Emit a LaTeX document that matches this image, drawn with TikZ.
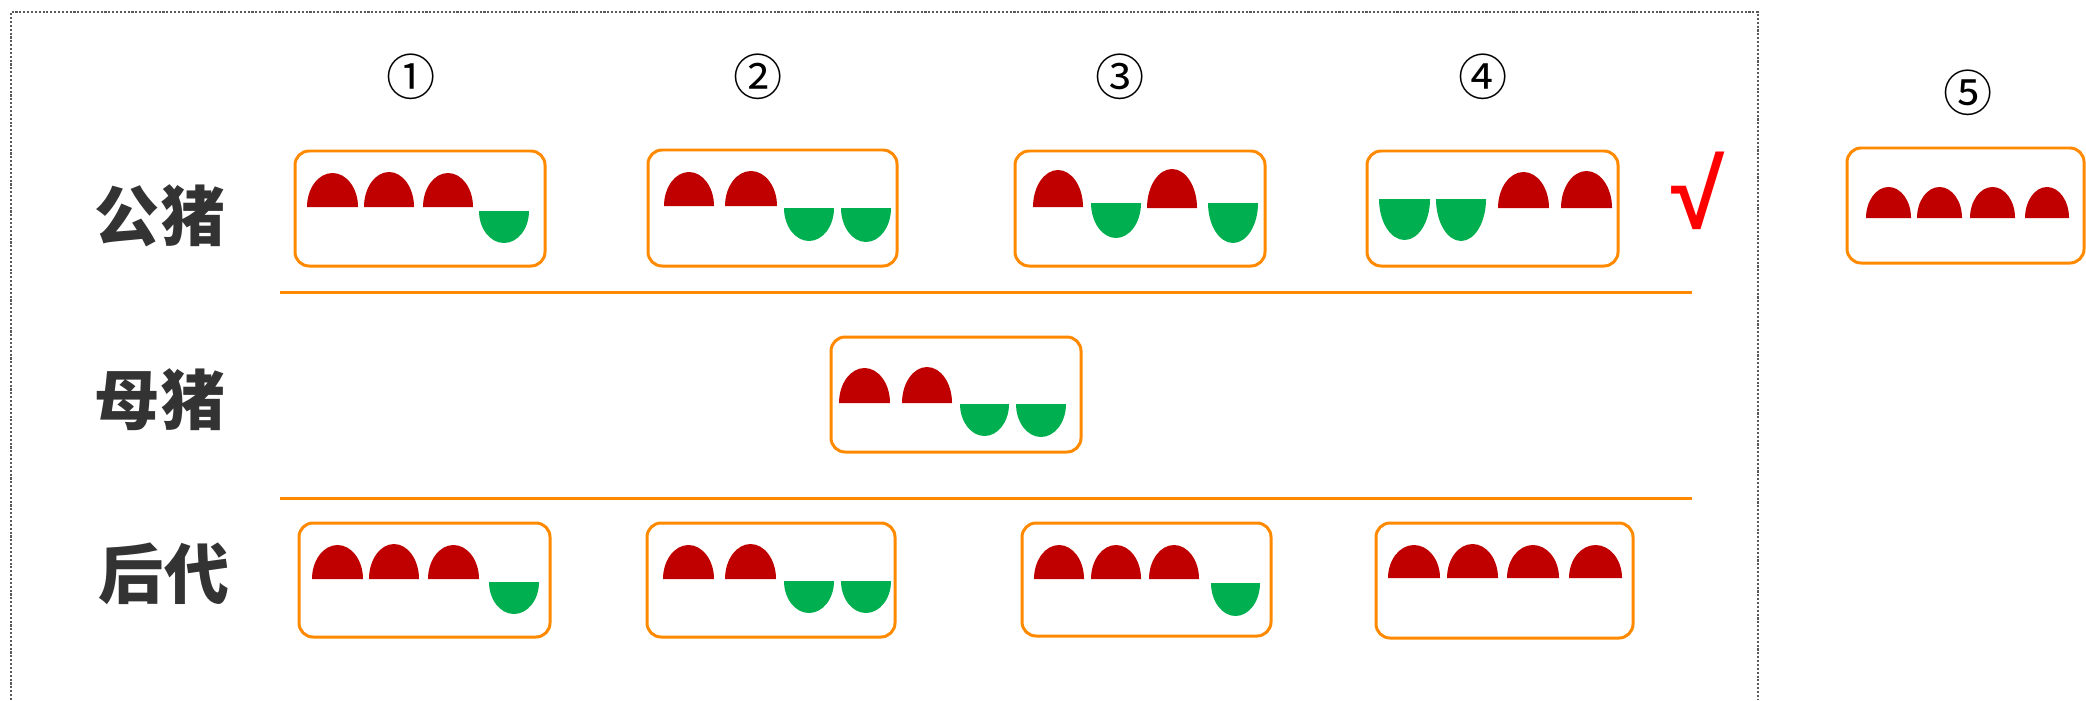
\documentclass[tikz,border=0pt]{standalone}
\usepackage{fontspec}
\newfontfamily\cjk{Noto Sans CJK SC}
\newfontfamily\checkfont{Liberation Sans}
\definecolor{capred}{HTML}{C00000}
\definecolor{capgreen}{HTML}{00B050}
\definecolor{boxorange}{HTML}{FF8A00}
\definecolor{labelgray}{HTML}{333333}
\definecolor{framegray}{HTML}{5A5A5A}
\definecolor{checkred}{HTML}{FF0000}
\newcommand\upcap[4]{% x1 x2 top base
  \fill[capred] (#1,#4) .. controls (#1,{#4-0.5523*(#4-#3)}) and ({(#1+#2)/2-0.5523*(#2-#1)/2},#3) .. ({(#1+#2)/2},#3)
    .. controls ({(#1+#2)/2+0.5523*(#2-#1)/2},#3) and (#2,{#4-0.5523*(#4-#3)}) .. (#2,#4) -- cycle;}
\newcommand\downcap[4]{% x1 x2 top bottom
  \fill[capgreen] (#1,#3) .. controls (#1,{#3+0.5523*(#4-#3)}) and ({(#1+#2)/2-0.5523*(#2-#1)/2},#4) .. ({(#1+#2)/2},#4)
    .. controls ({(#1+#2)/2+0.5523*(#2-#1)/2},#4) and (#2,{#3+0.5523*(#4-#3)}) .. (#2,#3) -- cycle;}
\begin{document}
\begin{tikzpicture}[x=0.01cm,y=-0.01cm,
  pbox/.style={draw=boxorange,line width=0.85pt,rounded corners=4pt},
  sepline/.style={draw=boxorange,line width=0.85pt},
  frame/.style={draw=framegray,line width=0.7pt,dash pattern=on 0.6pt off 0.5pt},
  rowlabel/.style={font=\cjk\bfseries\fontsize{18.5pt}{18.5pt}\selectfont,text=labelgray,inner sep=0pt},
  numlabel/.style={font=\cjk\fontsize{14pt}{14pt}\selectfont,inner sep=0pt},
  checklabel/.style={font=\checkfont\bfseries\fontsize{27.5pt}{27.5pt}\selectfont,text=checkred,inner sep=0pt}]
\fill[white] (0,0) rectangle (2086,700);
\useasboundingbox (0,0) rectangle (2086,700);
% frame
\draw[frame] (11,700) -- (11,12) -- (1758,12) -- (1758,700);
% labels
\node[rowlabel] (gz) at (160,216) {公猪};
\node[rowlabel] (mz) at (160,400) {母猪};
\node[rowlabel] (hd) at (164,574) {后代};
\node[numlabel] (n1) at (411,77) {①};
\node[numlabel] (n2) at (758,77) {②};
\node[numlabel] (n3) at (1120,77) {③};
\node[numlabel] (n4) at (1483,77) {④};
\node[numlabel] (n5) at (1968,93) {⑤};
\node[checklabel] (ck) at (1698,191) {√};
% separator lines
\coordinate (l1a) at (280,292); \coordinate (l1b) at (1692,292);
\coordinate (l2a) at (280,498); \coordinate (l2b) at (1692,498);
\draw[sepline] (l1a) -- (l1b);
\draw[sepline] (l2a) -- (l2b);
% row 1
\draw[pbox] (295,151) rectangle (545,266);
\upcap{307}{358}{173}{207}\upcap{364}{414}{172}{207}\upcap{423}{473}{173}{207}
\downcap{479}{529}{211}{243}
\draw[pbox] (648,150) rectangle (897,266);
\upcap{664}{714}{172}{206}\upcap{725}{777}{171}{206}
\downcap{784}{834}{208}{241}\downcap{841}{891}{208}{242}
\draw[pbox] (1015,151) rectangle (1265,266);
\upcap{1033}{1083}{170}{207}\upcap{1147}{1197}{169}{208}
\downcap{1091}{1141}{203}{238}\downcap{1208}{1258}{203}{243}
\draw[pbox] (1367,151) rectangle (1618,266);
\downcap{1379}{1430}{199}{240}\downcap{1436}{1486}{199}{241}
\upcap{1498}{1549}{172}{208}\upcap{1561}{1612}{171}{208}
\draw[pbox] (1847,148) rectangle (2084,263);
\upcap{1866}{1911}{187}{218}\upcap{1917}{1962}{187}{218}\upcap{1970}{2015}{187}{218}\upcap{2025}{2069}{187}{218}
% row 2
\draw[pbox] (831,337) rectangle (1081,452);
\upcap{839}{890}{368}{403}\upcap{902}{952}{367}{403}
\downcap{960}{1009}{404}{436}\downcap{1016}{1066}{404}{437}
% row 3
\draw[pbox] (299,523) rectangle (550,637);
\upcap{312}{363}{545}{579}\upcap{369}{419}{544}{579}\upcap{428}{479}{545}{579}
\downcap{489}{539}{582}{614}
\draw[pbox] (647,523) rectangle (895,637);
\upcap{663}{714}{545}{579}\upcap{725}{776}{544}{579}
\downcap{784}{834}{581}{613}\downcap{841}{891}{581}{613}
\draw[pbox] (1022,523) rectangle (1271,636);
\upcap{1034}{1084}{545}{579}\upcap{1091}{1141}{545}{579}\upcap{1149}{1199}{545}{579}
\downcap{1211}{1260}{583}{616}
\draw[pbox] (1376,523) rectangle (1633,638);
\upcap{1388}{1440}{545}{578}\upcap{1447}{1498}{544}{578}\upcap{1507}{1559}{545}{578}\upcap{1569}{1622}{545}{578}
\end{tikzpicture}
\end{document}
